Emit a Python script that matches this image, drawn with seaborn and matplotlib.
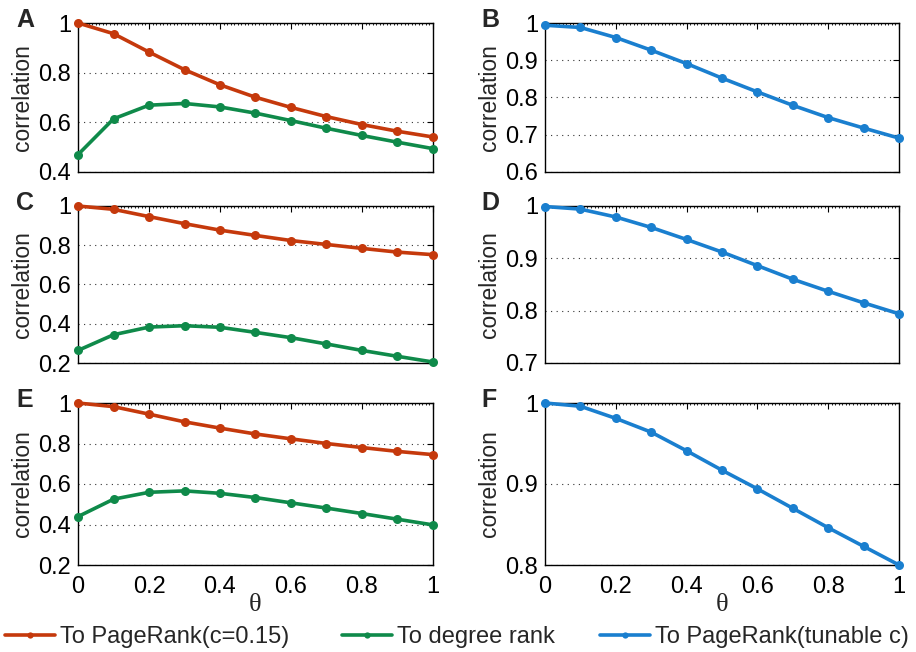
import numpy as np
import pandas as pd
import matplotlib
matplotlib.use("Agg")
import matplotlib.pyplot as plt
from matplotlib.lines import Line2D
from matplotlib.ticker import MultipleLocator, FuncFormatter
import seaborn as sns

# data
theta = [0, 0.1, 0.2, 0.3, 0.4, 0.5, 0.6, 0.7, 0.8, 0.9, 1.0]

a_pr = [1.0, 0.957, 0.883, 0.812, 0.751, 0.701, 0.660, 0.623, 0.591, 0.564, 0.541]
a_deg = [0.470, 0.614, 0.669, 0.676, 0.662, 0.637, 0.607, 0.576, 0.547, 0.520, 0.494]
b_tun = [0.994, 0.988, 0.961, 0.927, 0.891, 0.852, 0.815, 0.779, 0.746, 0.718, 0.691]

c_pr = [1.0, 0.983, 0.946, 0.910, 0.877, 0.850, 0.824, 0.804, 0.784, 0.765, 0.752]
c_deg = [0.264, 0.344, 0.383, 0.390, 0.382, 0.356, 0.329, 0.297, 0.264, 0.234, 0.205]
d_tun = [0.999, 0.994, 0.979, 0.959, 0.936, 0.912, 0.886, 0.860, 0.837, 0.815, 0.794]

e_pr = [1.0, 0.982, 0.945, 0.907, 0.876, 0.847, 0.823, 0.800, 0.780, 0.761, 0.745]
e_deg = [0.439, 0.525, 0.559, 0.566, 0.554, 0.533, 0.507, 0.481, 0.454, 0.426, 0.398]
f_tun = [1.0, 0.996, 0.981, 0.964, 0.941, 0.917, 0.894, 0.870, 0.846, 0.823, 0.800]

names = ["To PageRank(c=0.15)", "To degree rank", "To PageRank(tunable c)"]
colors = {names[0]: "#c5390c", names[1]: "#0f8a4a", names[2]: "#1a7fcf"}

panels = [
    ("A", {names[0]: a_pr, names[1]: a_deg}, (0.4, 1.0), 0.2),
    ("B", {names[2]: b_tun}, (0.6, 1.0), 0.1),
    ("C", {names[0]: c_pr, names[1]: c_deg}, (0.2, 1.0), 0.2),
    ("D", {names[2]: d_tun}, (0.7, 1.0), 0.1),
    ("E", {names[0]: e_pr, names[1]: e_deg}, (0.2, 1.0), 0.2),
    ("F", {names[2]: f_tun}, (0.8, 1.0), 0.1),
]

sns.set_theme(style="white")
plt.rcParams['font.family'] = ['Liberation Sans', 'DejaVu Sans']

fig = plt.figure(figsize=(9.16, 6.52), dpi=100)

# axes boxes in pixels: left/right per column, top/bottom per row
cols = [(78, 433), (545, 899)]
rows = [(23, 172), (206, 363), (403, 565)]
W, H = 916, 652

fmt = FuncFormatter(lambda v, p: "%g" % round(v, 2))

for i, (letter, series, ylim, ystep) in enumerate(panels):
    r, c = divmod(i, 2)
    x0, x1 = cols[c]
    y0, y1 = rows[r]
    ax = fig.add_axes([x0 / W, 1 - y1 / H, (x1 - x0) / W, (y1 - y0) / H])

    df = pd.DataFrame(
        [(t, v, k) for k, vals in series.items() for t, v in zip(theta, vals)],
        columns=["theta", "corr", "series"])
    sns.lineplot(data=df, x="theta", y="corr", hue="series", palette=colors,
                 marker="o", markersize=6.5, markeredgewidth=0, linewidth=2.6,
                 legend=False, ax=ax, clip_on=False, zorder=3)

    ax.set_xlim(0, 1)
    ax.set_ylim(*ylim)
    ax.xaxis.set_major_locator(MultipleLocator(0.2))
    ax.xaxis.set_minor_locator(MultipleLocator(0.01))
    ax.yaxis.set_major_locator(MultipleLocator(ystep))
    ax.xaxis.set_major_formatter(fmt)
    ax.yaxis.set_major_formatter(fmt)
    ax.tick_params(which="both", direction="in", top=True, right=True,
                   labelsize=17, colors="black")
    ax.tick_params(axis="x", pad=8)
    ax.tick_params(axis="y", pad=5)
    ax.tick_params(which="major", length=4, width=0.8)
    ax.tick_params(which="minor", length=1.5, width=0.6)
    ax.grid(axis="y", linestyle=(0, (1, 4)), color="#333333", linewidth=0.8)
    for s in ax.spines.values():
        s.set_color("black")
        s.set_linewidth(1.0)
    ax.set_ylabel("correlation", fontsize=16.5, labelpad=3)
    if r < 2:
        ax.set_xticklabels([])
        ax.set_xlabel("")
    else:
        ax.set_xlabel("θ", fontsize=19, labelpad=-3,
                      family=["Liberation Serif", "DejaVu Serif"])
    fig.text((16 if c == 0 else 481) / W, 1 - (y0 - 15) / H, letter,
             fontsize=18, fontweight="bold", ha="left", va="top")

# one legend entry per column position, as in the reference
for n, xpos in zip(names, [5, 342, 600]):
    h = Line2D([], [], color=colors[n], marker="o", markersize=4.5,
               linewidth=2.6, markeredgewidth=0)
    fig.legend([h], [n], loc="center left", bbox_to_anchor=(xpos / W, 1 - 637 / H),
               frameon=False, handlelength=2.1, handletextpad=0.25,
               borderaxespad=0, borderpad=0, prop={"size": 17})

fig.savefig("out.png", dpi=100)
